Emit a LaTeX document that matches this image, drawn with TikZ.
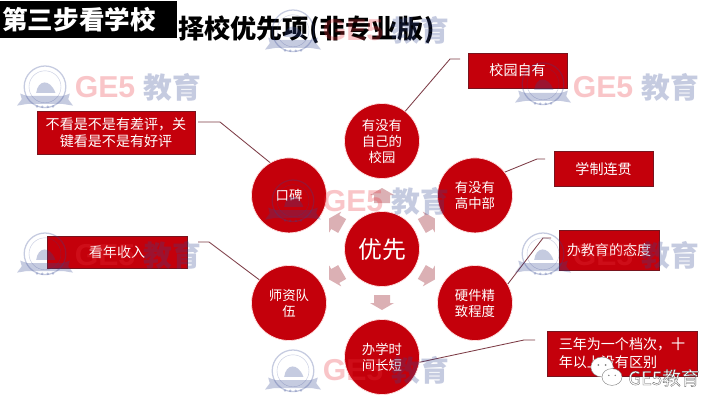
\documentclass[tikz,border=0pt]{standalone}
\usepackage{fontspec}
\setmainfont{Noto Sans CJK SC}
\newfontfamily\wmfont{Liberation Sans}
\definecolor{boxred}{RGB}{196, 0, 11}
\definecolor{boxedge}{RGB}{120, 20, 30}
\definecolor{linewine}{RGB}{125, 60, 70}
\definecolor{arrowpale}{RGB}{219, 176, 180}
\definecolor{markred}{RGB}{235, 50, 60}
\definecolor{markblue}{RGB}{50, 70, 145}
\usetikzlibrary{positioning}
\tikzset{
  redcircle/.style={circle, fill=boxred, draw=red!12, line width=0.5pt, minimum size=1.875cm, inner sep=0pt, text=white, align=center, font=\fontsize{9.5}{11.4}\selectfont},
  redbox/.style={rectangle, fill=boxred, draw=boxedge, line width=0.4pt, inner sep=0pt, text=white, align=center, font=\fontsize{10}{12.5}\selectfont},
  leadline/.style={linewine, line width=0.6pt},
}
\begin{document}
\begin{tikzpicture}
  \useasboundingbox (0,0) rectangle (18.025,10.125);
  \fill[white] (0,0) rectangle (18.025,10.125);

  % Title
  \node[fill=black, text=white, text width=4.305cm, align=left, inner xsep=0.06cm, inner ysep=0pt, minimum height=0.925cm, font=\fontsize{18.2}{20}\selectfont\bfseries] (steptitle) at (2.2125, 9.6375) {第三步看学校};
  \node[anchor=west, inner sep=0pt, font=\fontsize{18.6}{22}\selectfont\bfseries] (maintitle) at (4.45, 9.375) {择校优先项(非专业版)};

  % Centre and arrows
  \node[redcircle, font=\fontsize{17}{20}\selectfont] (youxian) at (9.55, 3.9) {优先};
  \foreach \a in {30, 90, 150, 210, 270, 330}
    \fill[arrowpale, shift={(youxian.center)}, rotate=\a] (1.15,-0.2) -- (1.35,-0.2) -- (1.35,-0.3) -- (1.525,0) -- (1.35,0.3) -- (1.35,0.2) -- (1.15,0.2) -- cycle;

  % Circles
  \node[redcircle] (xiaoyuan) at (9.55, 6.6) {有没有\\自己的\\校园};
  \node[redcircle] (gaozhong) at (11.875, 5.24) {有没有\\高中部};
  \node[redcircle] (yingjian) at (11.875, 2.55) {硬件精\\致程度};
  \node[redcircle] (banxue) at (9.55, 1.2) {办学时\\间长短};
  \node[redcircle] (shizi) at (7.225, 2.55) {师资队\\伍};
  \node[redcircle] (koubei) at (7.225, 5.24) {口碑};

  % Notes
  \node[redbox, minimum width=3.95cm, minimum height=1.075cm] (haoping) at (2.9, 6.8125) {不看是不是有差评，关\\键看是不是有好评};
  \node[redbox, minimum width=2.475cm, minimum height=0.875cm] (ziyou) at (12.94, 8.36) {校园自有};
  \node[redbox, minimum width=2.475cm, minimum height=0.875cm] (liantong) at (15.09, 5.9) {学制连贯};
  \node[redbox, minimum width=3.5cm, minimum height=0.8cm] (shouru) at (2.925, 3.825) {看年收入};
  \node[redbox, minimum width=2.5cm, minimum height=1cm] (taidu) at (15.225, 3.875) {办教育的态度};
  \node[redbox, minimum width=3.75cm, minimum height=1.125cm, align=left] (dangci) at (15.55, 1.29) {三年为一个档次，十\\年以上没有区别};

  % Lead lines
  \coordinate (a1) at (5.5, 7.075);     \coordinate (a2) at (4.95, 7.075);
  \coordinate (b1) at (11.25, 8.65);    \coordinate (b2) at (11.5, 8.65);
  \coordinate (c1) at (13.425, 6.15);   \coordinate (c2) at (13.625, 6.15);
  \coordinate (d1) at (5.225, 4.075);   \coordinate (d2) at (4.95, 4.075);
  \coordinate (e1) at (13.575, 4.175);  \coordinate (e2) at (13.775, 4.175);
  \coordinate (f1) at (13.1, 1.625);    \coordinate (f2) at (13.375, 1.625);
  \draw[leadline] (koubei.120) -- (a1) -- (a2);
  \draw[leadline] (xiaoyuan.52) -- (b1) -- (b2);
  \draw[leadline] (gaozhong.38) -- (c1) -- (c2);
  \draw[leadline] (shizi.142) -- (d1) -- (d2);
  \draw[leadline] (yingjian.30) -- (e1) -- (e2);
  \draw[leadline] (banxue.-8) -- (f1) -- (f2);

  % Watermarks
  \foreach \px/\py/\tx in {1.125/7.925/7.95, 13.575/8.0/7.95, 1.125/3.75/3.75, 13.575/3.75/3.75, 7.325/9.325/9.375, 7.325/5.075/5.1, 7.325/0.825/0.875} {
    \begin{scope}[shift={(\px,\py)}, opacity=0.28]
      \draw[markblue, line width=0.9pt] (0,0.03) circle (0.52);
      \draw[markblue, line width=0.3pt] (0,0.03) circle (0.4);
      \fill[markblue] (-0.22,-0.12) .. controls (-0.18,0.2) and (0.12,0.25) .. (0.26,-0.12) -- cycle;
      \fill[markblue] (-0.7,-0.44) -- (-0.58,-0.28) -- (-0.62,-0.14) -- (-0.45,-0.2) -- (0.45,-0.2) -- (0.62,-0.14) -- (0.58,-0.28) -- (0.7,-0.44) -- (0.45,-0.4) -- (-0.45,-0.4) -- cycle;
      \fill[markblue] (-0.2,-0.46) circle (0.035) (-0.07,-0.47) circle (0.035) (0.07,-0.47) circle (0.035) (0.2,-0.46) circle (0.035);
      \node[text=markred, font=\wmfont\fontsize{21.5}{24}\selectfont\bfseries, inner sep=0pt] at (1.5, \tx-\py) {GE5};
      \node[text=markblue, font=\fontsize{20.5}{24}\selectfont\bfseries, inner sep=0pt] at (3.175, \tx-\py) {教育};
    \end{scope}
  }

  % WeChat mark
  \fill[white, draw=gray, line width=0.3pt] (15.05, 0.95) ellipse (0.28 and 0.25);
  \fill[white, draw=gray, line width=0.3pt] (15.3, 0.7) ellipse (0.25 and 0.21);
  \fill[gray] (14.96, 1.0) circle (0.025) (15.14, 1.0) circle (0.025) (15.22, 0.74) circle (0.02) (15.38, 0.74) circle (0.02);
  \node[anchor=west, inner sep=0pt, text=white, font=\fontsize{13.2}{15}\selectfont] (wechat) at (15.7, 0.68) {\special{pdf:code q 2 Tr 0.35 0.35 0.35 RG 0.2 w}GE5教育\special{pdf:code Q}};
\end{tikzpicture}
\end{document}
